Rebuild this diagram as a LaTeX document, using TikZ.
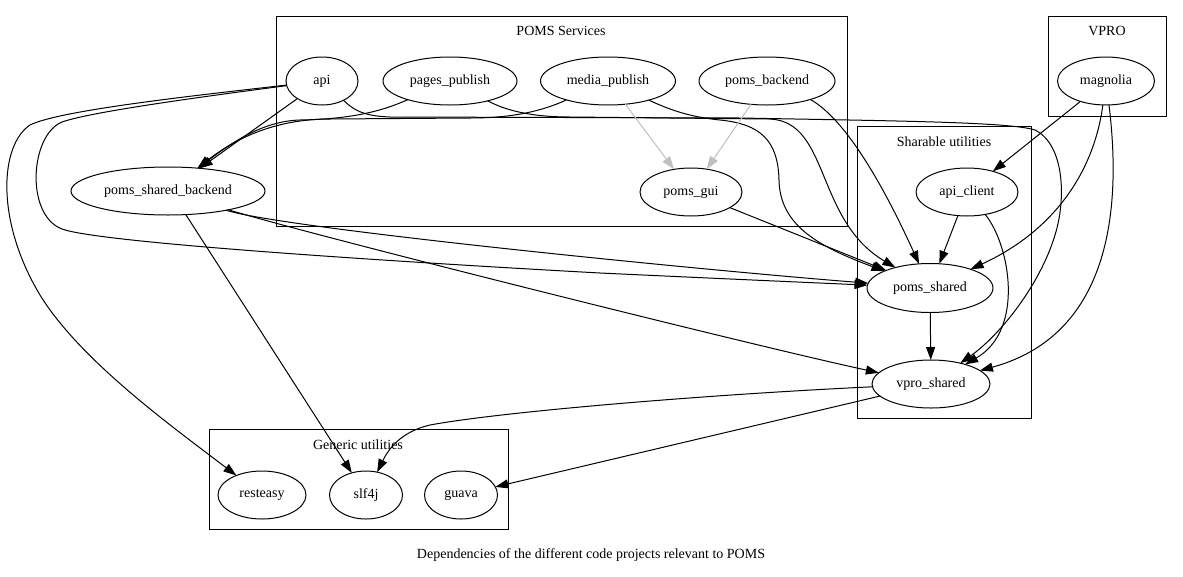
\documentclass[tikz,border=0pt]{standalone}
\usepackage{fontspec}
\setmainfont{Liberation Serif}
\usetikzlibrary{shapes.geometric,arrows.meta}
\definecolor{lgray}{RGB}{192,192,192}
\tikzset{
  nd/.style={ellipse, draw, line width=1pt, inner sep=0pt, outer sep=0pt, minimum height=48pt, font=\fontsize{14}{16}\selectfont},
  e/.style={line width=1pt, -{Triangle[length=13pt,width=9pt]}},
  eg/.style={e, draw=lgray, fill=lgray},
  clus/.style={draw, line width=1pt},
  lbl/.style={font=\fontsize{14}{16}\selectfont, inner sep=0pt},
}
\begin{document}
\begin{tikzpicture}[x=1pt,y=-1pt]
\useasboundingbox (0,0) rectangle (1183,576);
% clusters
\draw[clus] (276,16) rectangle (847,226);
\draw[clus] (1048,16) rectangle (1166,116);
\draw[clus] (857,126) rectangle (1031,418);
\draw[clus] (209,429) rectangle (508,529);
\node[lbl] (lpoms) at (561,31) {POMS Services};
\node[lbl] (lvpro) at (1107,31) {VPRO};
\node[lbl] (lshare) at (944,142) {Sharable utilities};
\node[lbl] (lgen) at (358,445) {Generic utilities};
\node[lbl] (caption) at (591,555) {Dependencies of the different code projects relevant to POMS};
% nodes
\node[nd, minimum width=72pt] (api) at (322,81) {api};
\node[nd, minimum width=134pt] (pp) at (450,81) {pages\_publish};
\node[nd, minimum width=135pt] (mp) at (608,81) {media\_publish};
\node[nd, minimum width=136pt] (pb) at (767,81) {poms\_backend};
\node[nd, minimum width=97pt] (mag) at (1106,81) {magnolia};
\node[nd, minimum width=194pt] (psb) at (168,191) {poms\_shared\_backend};
\node[nd, minimum width=102pt] (pg) at (691,192) {poms\_gui};
\node[nd, minimum width=102pt] (ac) at (967,192) {api\_client};
\node[nd, minimum width=126pt, minimum height=49pt] (ps) at (930,288) {poms\_shared};
\node[nd, minimum width=118pt] (vs) at (931,384) {vpro\_shared};
\node[nd, minimum width=88pt] (resteasy) at (262,495) {resteasy};
\node[nd, minimum width=73pt] (slf4j) at (366,495) {slf4j};
\node[nd, minimum width=73pt] (guava) at (461,495) {guava};
% edges
\draw[e] (api) -- (psb);
\draw[e] (pp) .. controls (380,112) and (350,119) .. (300,120) .. controls (265,121) and (235,140) .. (psb);
\draw[e] (mp) .. controls (540,112) and (510,118) .. (470,118) -- (330,119) .. controls (280,119) and (240,135) .. (psb);
\draw[e] (api) .. controls (200,95) and (60,110) .. (30,125) .. controls (0,145) and (-5,220) .. (40,295) .. controls (80,360) and (170,425) .. (resteasy);
\draw[e] (api) .. controls (200,97) and (90,112) .. (62,122) .. controls (30,135) and (25,215) .. (62,229) .. controls (100,243) and (400,262) .. (600,273) .. controls (750,280) and (820,283) .. (ps);
\draw[e] (api) .. controls (352,108) and (360,116) .. (390,117) -- (740,118) .. controls (900,121) and (1010,122) .. (1035,130) .. controls (1065,145) and (1066,200) .. (1055,235) .. controls (1040,285) and (1000,335) .. (vs);
\draw[e] (pp) .. controls (505,110) and (530,117) .. (570,117) -- (770,119) .. controls (830,122) and (815,220) .. (ps);
\draw[e] (mp) .. controls (670,110) and (690,117) .. (720,120) .. controls (760,124) and (778,140) .. (779,180) .. controls (780,225) and (817,246) .. (ps);
\draw[eg] (mp) -- (pg);
\draw[eg] (pb) -- (pg);
\draw[e] (pb.-23) .. controls (850,122) and (890,200) .. (ps);
\draw[e] (pg) -- (ps);
\draw[e] (psb) .. controls (280,228) and (700,270) .. (ps);
\draw[e] (psb) .. controls (300,232) and (750,345) .. (vs);
\draw[e] (psb.-53) -- (slf4j);
\draw[e] (ac) -- (ps);
\draw[e] (ac) .. controls (1010,245) and (1025,330) .. (vs);
\draw[e] (mag) -- (ac);
\draw[e] (mag) .. controls (1095,165) and (1060,228) .. (ps);
\draw[e] (mag) .. controls (1122,210) and (1110,335) .. (vs);
\draw[e] (ps) -- (vs);
\draw[e] (vs) .. controls (700,395) and (500,412) .. (430,425) .. controls (400,432) and (388,450) .. (slf4j);
\draw[e] (vs) -- (guava);
\end{tikzpicture}
\end{document}
